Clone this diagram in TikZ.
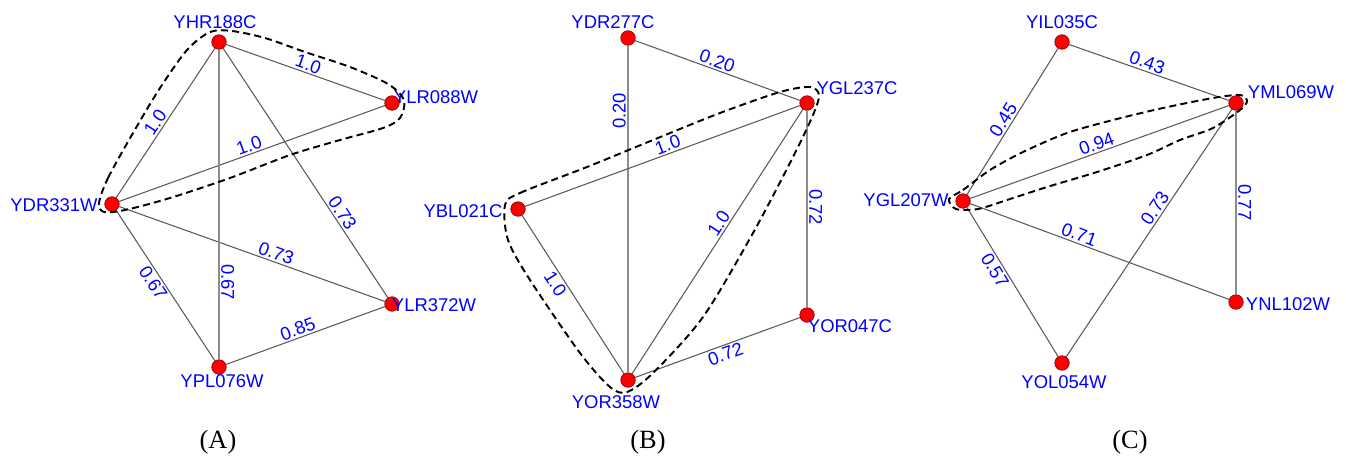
\documentclass[tikz,border=0pt]{standalone}
\usepackage{fontspec}
\setmainfont{Liberation Serif}
\setsansfont{Liberation Sans}
\usepackage{xcolor}
\usepackage{tikz}

\begin{document}
\begin{tikzpicture}[
    x=0.02cm, y=-0.02cm,
    gene/.style={circle, fill=red, draw=red!55!black, line width=0.4pt, minimum size=0.29cm, inner sep=0pt},
    genelbl/.style={text=blue, font=\sffamily\fontsize{10.5}{12}\selectfont, inner sep=0pt},
    wt/.style={text=blue, font=\sffamily\fontsize{10.5}{12}\selectfont, sloped, inner sep=1pt},
    vwt/.style={text=blue, font=\sffamily\fontsize{10.5}{12}\selectfont, inner sep=1pt},
    link/.style={draw=black!65, line width=0.6pt},
    vlink/.style={draw=black!45, line width=0.6pt},
    hull/.style={black, line width=1.1pt, dash pattern=on 4pt off 2.4pt},
    panel/.style={font=\fontsize{15}{17}\selectfont}
]
    \useasboundingbox (0,0) rectangle (1346,457);

    % (A)
    \node[gene] (yhr188c) at (219,42) {};
    \node[gene] (ylr088w) at (392,103) {};
    \node[gene] (ydr331w) at (112,204) {};
    \node[gene] (ylr372w) at (392,304) {};
    \node[gene] (ypl076w) at (219,367) {};
    \node[genelbl] (yhr188c-t) at (215,22) {YHR188C};
    \node[genelbl] (ylr088w-t) at (436,97) {YLR088W};
    \node[genelbl] (ydr331w-t) at (54,205) {YDR331W};
    \node[genelbl] (ylr372w-t) at (434,305) {YLR372W};
    \node[genelbl] (ypl076w-t) at (222,381) {YPL076W};
    \draw[link] (yhr188c) -- node[wt, above] {1.0} (ylr088w);
    \draw[link] (ydr331w) -- node[wt, above, pos=0.47] {1.0} (yhr188c);
    \draw[link] (ydr331w) -- node[wt, above] {1.0} (ylr088w);
    \draw[link] (yhr188c) -- node[wt, above, pos=0.68] {0.73} (ylr372w);
    \draw[link] (ydr331w) -- node[wt, above, pos=0.58] {0.73} (ylr372w);
    \draw[link] (ydr331w) -- node[wt, below, pos=0.45] {0.67} (ypl076w);
    \draw[vlink] (yhr188c) -- node[vwt, rotate=-90, above, pos=0.75] {0.67} (ypl076w);
    \draw[link] (ypl076w) -- node[wt, above, pos=0.47] {0.85} (ylr372w);
    \draw[hull] plot[smooth cycle] coordinates {(99,203) (108,178) (133,133) (160,88) (187,50) (210,32) (232,31) (265,38) (305,52) (350,67) (388,84) (404,100) (400,118) (383,128) (340,140) (290,155) (230,178) (170,198) (125,210) (104,212)};

    % (B)
    \node[gene] (ydr277c) at (628,38) {};
    \node[gene] (ygl237c) at (807,103) {};
    \node[gene] (ybl021c) at (518,209) {};
    \node[gene] (yor047c) at (807,315) {};
    \node[gene] (yor358w) at (628,380) {};
    \node[genelbl] (ydr277c-t) at (613,22) {YDR277C};
    \node[genelbl] (ygl237c-t) at (857,88) {YGL237C};
    \node[genelbl] (ybl021c-t) at (463,211) {YBL021C};
    \node[genelbl] (yor047c-t) at (850,326) {YOR047C};
    \node[genelbl] (yor358w-t) at (616,402) {YOR358W};
    \draw[link] (ydr277c) -- node[wt, above, pos=0.48] {0.20} (ygl237c);
    \draw[vlink] (yor358w) -- node[vwt, rotate=90, above, pos=0.8] {0.20} (ydr277c);
    \draw[link] (ybl021c) -- node[wt, above, pos=0.53] {1.0} (ygl237c);
    \draw[link] (yor358w) -- node[wt, above, pos=0.55] {1.0} (ygl237c);
    \draw[vlink] (ygl237c) -- node[vwt, rotate=-90, above, pos=0.49] {0.72} (yor047c);
    \draw[link] (ybl021c) -- node[wt, below, pos=0.4] {1.0} (yor358w);
    \draw[link] (yor358w) -- node[wt, below, pos=0.53] {0.72} (yor047c);
    \draw[hull] plot[smooth cycle] coordinates {(505,205) (520,193) (587,167) (653,140) (720,113) (780,92) (810,87) (819,95) (813,115) (793,157) (753,233) (703,317) (653,373) (627,392) (610,387) (580,353) (530,280) (508,240)};

    % (C)
    \node[gene] (yil035c) at (1062,42) {};
    \node[gene] (yml069w) at (1236,103) {};
    \node[gene] (ygl207w) at (963,201) {};
    \node[gene] (ynl102w) at (1236,302) {};
    \node[gene] (yol054w) at (1062,363) {};
    \node[genelbl] (yil035c-t) at (1062,22) {YIL035C};
    \node[genelbl] (yml069w-t) at (1291,92) {YML069W};
    \node[genelbl] (ygl207w-t) at (906,200) {YGL207W};
    \node[genelbl] (ynl102w-t) at (1288,304) {YNL102W};
    \node[genelbl] (yol054w-t) at (1064,382) {YOL054W};
    \draw[link] (yil035c) -- node[wt, above, pos=0.47] {0.43} (yml069w);
    \draw[link] (ygl207w) -- node[wt, above, pos=0.48] {0.45} (yil035c);
    \draw[link] (ygl207w) -- node[wt, above] {0.94} (yml069w);
    \draw[link] (yol054w) -- node[wt, above, pos=0.58] {0.73} (yml069w);
    \draw[vlink] (yml069w) -- node[vwt, rotate=-90, above] {0.77} (ynl102w);
    \draw[link] (ygl207w) -- node[wt, above, pos=0.41] {0.71} (ynl102w);
    \draw[link] (ygl207w) -- node[wt, below, pos=0.39] {0.57} (yol054w);
    \draw[hull] plot[smooth cycle] coordinates {(949,199) (963,190) (990,170) (1023,152) (1067,133) (1113,120) (1163,108) (1213,98) (1240,95) (1247,101) (1240,110) (1213,128) (1180,140) (1147,155) (1097,172) (1047,187) (1007,200) (978,209) (956,209)};

    \node[panel] (capa) at (218,442) {(A)};
    \node[panel] (capb) at (648,442) {(B)};
    \node[panel] (capc) at (1130,442) {(C)};
\end{tikzpicture}
\end{document}
